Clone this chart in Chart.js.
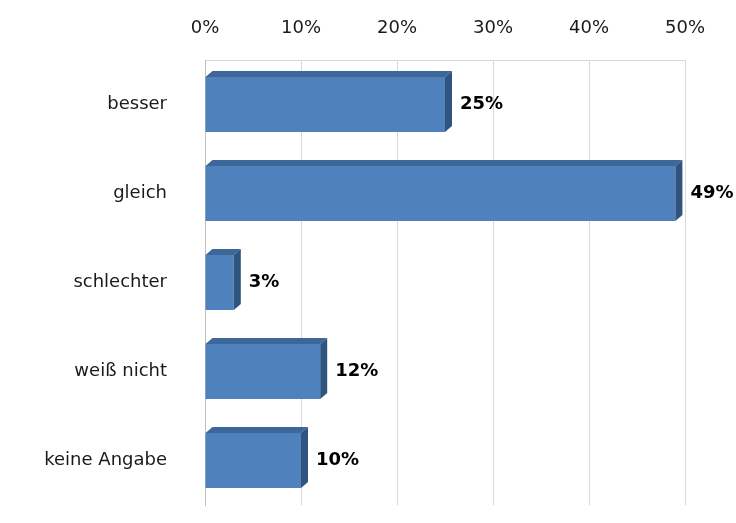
<!DOCTYPE html>
<html>
<head>
<meta charset="utf-8">
<script src="https://cdn.jsdelivr.net/npm/chart.js@4/dist/chart.umd.min.js"></script>
<style>
  html, body { margin: 0; padding: 0; background: #ffffff; }
  #wrap { width: 736px; height: 523px; }
</style>
</head>
<body>
<div id="wrap"><canvas id="c" width="736" height="523"></canvas></div>
<script>
const categories = ["besser", "gleich", "schlechter", "weiß nicht", "keine Angabe"];
const values = [25, 49, 3, 12, 10];
const axisMin = 0;
const axisMax = 50;
const axisStep = 10;

const FONT = '"DejaVu Sans", "Liberation Sans", Arial, sans-serif';

const bar3d = {
  id: 'bar3d',
  afterDatasetsDraw(chart) {
    const ctx = chart.ctx;
    const meta = chart.getDatasetMeta(0);
    const dx = 7, dy = 6;
    ctx.save();
    meta.data.forEach((el, i) => {
      const p = el.getProps(['x', 'y', 'base', 'height'], true);
      const top = p.y - p.height / 2, bot = p.y + p.height / 2;
      ctx.fillStyle = '#3d6699';
      ctx.beginPath();
      ctx.moveTo(p.base, top);
      ctx.lineTo(p.base + dx, top - dy);
      ctx.lineTo(p.x + dx, top - dy);
      ctx.lineTo(p.x, top);
      ctx.closePath();
      ctx.fill();
      ctx.fillStyle = '#2f5480';
      ctx.beginPath();
      ctx.moveTo(p.x, top);
      ctx.lineTo(p.x + dx, top - dy);
      ctx.lineTo(p.x + dx, bot - dy);
      ctx.lineTo(p.x, bot);
      ctx.closePath();
      ctx.fill();
      ctx.fillStyle = '#000000';
      ctx.font = 'bold 18px ' + FONT;
      ctx.textBaseline = 'middle';
      ctx.textAlign = 'left';
      ctx.fillText(values[i] + '%', p.x + dx + 8, p.y);
    });
    ctx.restore();
  }
};

new Chart(document.getElementById('c'), {
  type: 'bar',
  data: {
    labels: categories,
    datasets: [{
      data: values,
      backgroundColor: '#4f81bd',
      borderWidth: 0,
      barPercentage: 0.62,
      categoryPercentage: 1.0
    }]
  },
  options: {
    indexAxis: 'y',
    responsive: false,
    animation: false,
    layout: { padding: { top: 0, right: 51, bottom: 18, left: 0 } },
    plugins: { legend: { display: false }, tooltip: { enabled: false } },
    scales: {
      x: {
        position: 'top',
        min: axisMin,
        max: axisMax,
        afterFit: s => { s.height = 60; s.paddingLeft = 0; s.paddingRight = 0; },
        ticks: {
          stepSize: axisStep,
          padding: 21,
          color: '#1a1a1a',
          font: { family: FONT, size: 18 },
          callback: v => v + '%'
        },
        grid: { color: '#d9d9d9', drawTicks: false },
        border: { display: true, color: '#d9d9d9' }
      },
      y: {
        afterFit: s => { s.width = 205; s.paddingTop = 0; s.paddingBottom = 0; },
        ticks: {
          padding: 30,
          color: '#1a1a1a',
          font: { family: FONT, size: 18 }
        },
        grid: { display: false },
        border: { display: true, color: '#bfbfbf' }
      }
    }
  },
  plugins: [bar3d]
});
</script>
</body>
</html>
